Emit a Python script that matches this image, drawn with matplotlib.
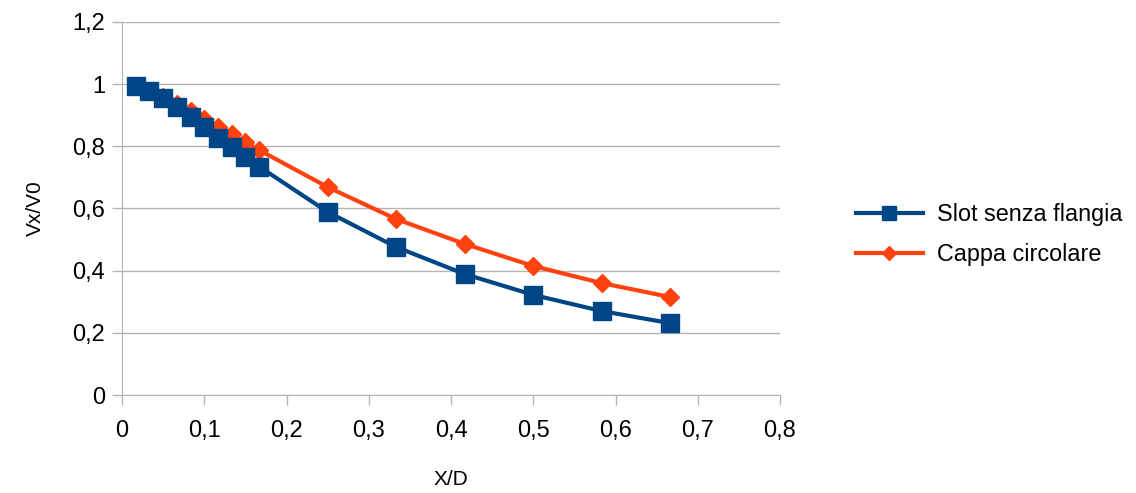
import matplotlib.pyplot as plt

plt.rcParams['font.family'] = ['Liberation Sans', 'DejaVu Sans']

# X/D positions
x_slot = [1/60, 2/60, 3/60, 4/60, 5/60, 6/60, 7/60, 8/60, 9/60, 10/60,
          15/60, 20/60, 25/60, 30/60, 35/60, 40/60]
x_cappa = x_slot

# Vx/V0
v_slot = [0.995, 0.977, 0.955, 0.926, 0.895, 0.862, 0.828, 0.797, 0.767, 0.735,
          0.589, 0.476, 0.389, 0.322, 0.270, 0.231]
v_cappa = [0.995, 0.978, 0.958, 0.936, 0.913, 0.889, 0.863, 0.839, 0.814, 0.788,
           0.669, 0.566, 0.486, 0.415, 0.360, 0.315]

xticks = [0, 0.1, 0.2, 0.3, 0.4, 0.5, 0.6, 0.7, 0.8]
yticks = [0, 0.2, 0.4, 0.6, 0.8, 1.0, 1.2]

fig = plt.figure(figsize=(11.36, 4.93), dpi=100)
ax = fig.add_axes([122/1136, 1 - 395/493, (780-122)/1136, (395-22)/493])

ax.plot(x_slot, v_slot, color='#004586', lw=3, marker='s', ms=13.5,
        label='Slot senza flangia', zorder=3)
ax.plot(x_cappa, v_cappa, color='#ff420e', lw=3, marker='D', ms=9.5,
        label='Cappa circolare', zorder=2)

ax.set_xlim(0, 0.8)
ax.set_ylim(0, 1.2)
ax.set_xticks(xticks)
ax.set_yticks(yticks)
fmt = lambda v: ('%g' % v).replace('.', ',')
ax.set_xticklabels([fmt(v) for v in xticks])
ax.set_yticklabels([fmt(v) for v in yticks])
ax.tick_params(axis='both', labelsize=17, color='#b3b3b3', length=7, width=1,
               labelcolor='black', pad=5)
ax.tick_params(axis='x', pad=11)

ax.grid(axis='y', color='#b3b3b3', lw=1)
ax.set_axisbelow(True)
for s in ['top', 'right']:
    ax.spines[s].set_visible(False)
for s in ['left', 'bottom']:
    ax.spines[s].set_color('#b3b3b3')

ax.set_xlabel('X/D', fontsize=15, labelpad=20)
ax.set_ylabel('Vx/V0', fontsize=15, labelpad=20)

leg = ax.legend(loc='center left', bbox_to_anchor=(1.083, 0.43), frameon=False,
                fontsize=16.8, handlelength=2.9, handletextpad=0.6,
                markerscale=0.75, labelspacing=0.75)

fig.savefig('out.png', dpi=100)
plt.close()
